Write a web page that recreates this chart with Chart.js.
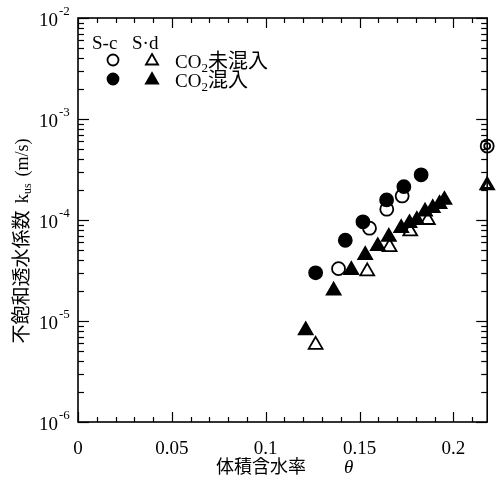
<!DOCTYPE html>
<html><head><meta charset="utf-8">
<script src="https://cdn.jsdelivr.net/npm/chart.js@4/dist/chart.umd.min.js"></script>
<style>html,body{margin:0;padding:0;background:#fff}</style>
</head><body>
<canvas id="c" width="497" height="481"></canvas>
<script>
// ---- data ----
const xTickValues = [0, 0.05, 0.1, 0.15, 0.2];
const xTickLabels = ['0', '0.05', '0.1', '0.15', '0.2'];
const yTickExponents = [-6, -5, -4, -3, -2];

const scOpenTheta = [0.1388, 0.1553, 0.1645, 0.1727];
const scOpenK = [3.3e-5, 8.3e-5, 1.28e-4, 1.73e-4];
const scFilledTheta = [0.1266, 0.1424, 0.1518, 0.1644, 0.1736, 0.1828];
const scFilledK = [3.0e-5, 6.3e-5, 9.6e-5, 1.58e-4, 2.14e-4, 2.8e-4];
const sdOpenTheta = [0.1266, 0.1541, 0.1660, 0.1770, 0.1864];
const sdOpenK = [5.8e-6, 3.1e-5, 5.4e-5, 7.7e-5, 1.0e-4];
const sdFilledTheta = [0.1213, 0.1362, 0.1456, 0.1530, 0.1597, 0.1656, 0.1722, 0.1766, 0.1805, 0.1849, 0.1890, 0.1926, 0.1952];
const sdFilledK = [8.1e-6, 2.0e-5, 3.2e-5, 4.5e-5, 5.5e-5, 6.8e-5, 8.3e-5, 9.3e-5, 1.0e-4, 1.21e-4, 1.31e-4, 1.44e-4, 1.58e-4];
const satTheta = [0.218];
const scSatK = [5.4e-4];
const sdSatK = [2.2e-4];

const X_MIN = 0, X_MAX = 0.218, Y_MIN = 1e-6, Y_MAX = 1e-2;

function pts(xs, ys) { return xs.map((v, i) => ({ x: v, y: ys[i] })); }

const SERIF = '"Liberation Serif", "DejaVu Serif", serif';
const CJK = '"Noto Sans CJK JP", "Noto Sans", sans-serif';

function marker(ctx, style, x, y, r, filled) {
  ctx.beginPath();
  if (style === 'circle') {
    ctx.arc(x, y, r, 0, Math.PI * 2);
  } else {
    for (let k = 0; k < 3; k++) {
      const a = k * 2 * Math.PI / 3;
      const px = x + Math.sin(a) * r, py = y - Math.cos(a) * r;
      if (k === 0) ctx.moveTo(px, py); else ctx.lineTo(px, py);
    }
    ctx.closePath();
  }
  ctx.fillStyle = filled ? '#000' : '#fff';
  ctx.fill();
  ctx.lineWidth = 1.8;
  ctx.strokeStyle = '#000';
  ctx.stroke();
}

// draws a run of text pieces [{t, font, dy}] starting at x, baseline y; returns end x
function runText(ctx, pieces, x, y, measureOnly) {
  let cx = x;
  for (const p of pieces) {
    ctx.font = p.font;
    if (!measureOnly) ctx.fillText(p.t, cx, y + (p.dy || 0));
    cx += ctx.measureText(p.t).width + (p.gap || 0);
  }
  return cx;
}

const decor = {
  id: 'decor',
  afterDraw(chart) {
    const { ctx, chartArea: a, scales: { x, y } } = chart;
    ctx.save();
    ctx.strokeStyle = '#000';
    ctx.fillStyle = '#000';
    const line = (x1, y1, x2, y2) => { ctx.beginPath(); ctx.moveTo(x1, y1); ctx.lineTo(x2, y2); ctx.stroke(); };

    // x minor/major ticks (bottom + top), inward
    ctx.lineWidth = 1.2;
    for (let i = 0; i <= 21; i++) {
      const px = Math.round(x.getPixelForValue(i / 100)) + 0.5;
      const L = (i % 5 === 0) ? 10 : 5;
      line(px, a.bottom, px, a.bottom - L);
      line(px, a.top, px, a.top + L);
    }
    // y ticks (left + right), inward
    for (const e of yTickExponents) {
      for (let m = 1; m <= 9; m++) {
        if (e === yTickExponents[yTickExponents.length - 1] && m > 1) break;
        const py = Math.round(y.getPixelForValue(m * Math.pow(10, e))) + 0.5;
        const L = m === 1 ? 11 : 6;
        line(a.left, py, a.left + L, py);
        line(a.right, py, a.right - L, py);
      }
    }
    // frame
    ctx.lineWidth = 1.6;
    ctx.strokeRect(a.left, a.top, a.right - a.left, a.bottom - a.top);

    // y tick labels 10^n
    ctx.textBaseline = 'middle';
    for (const e of yTickExponents) {
      const py = y.getPixelForValue(Math.pow(10, e));
      ctx.textAlign = 'right';
      ctx.font = '19px ' + SERIF;
      ctx.fillText('10', 58, py + 3);
      ctx.textAlign = 'left';
      ctx.font = '13px ' + SERIF;
      ctx.fillText('-' + Math.abs(e), 59, py - 6);
    }

    // x axis title
    ctx.textAlign = 'left';
    ctx.textBaseline = 'alphabetic';
    ctx.font = '18px ' + CJK;
    ctx.fillText('体積含水率', 216, 473);
    ctx.font = 'italic 19px ' + SERIF;
    ctx.fillText('θ', 344, 473);

    // y axis title (rotated)
    ctx.save();
    ctx.translate(28, 241);
    ctx.rotate(-Math.PI / 2);
    const yt = [
      { t: '不飽和透水係数', font: '19px ' + CJK, gap: 7 },
      { t: 'k', font: '19px ' + SERIF },
      { t: 'us', font: '12px ' + SERIF, dy: 3, gap: 7 },
      { t: '(m/s)', font: '18px ' + SERIF }
    ];
    const w = runText(ctx, yt, 0, 0, true);
    runText(ctx, yt, -w / 2, 0, false);
    ctx.restore();

    // legend
    ctx.font = '19px ' + SERIF;
    ctx.textBaseline = 'alphabetic';
    ctx.fillText('S-c', 92, 49);
    ctx.fillText('S·d', 132, 49);
    marker(ctx, 'circle', 113, 60, 5.5, false);
    marker(ctx, 'triangle', 152, 61, 7, false);
    marker(ctx, 'circle', 113, 79, 5.5, true);
    marker(ctx, 'triangle', 152, 80, 7, true);
    ctx.fillStyle = '#000';
    const l1 = [
      { t: 'CO', font: '19px ' + SERIF },
      { t: '2', font: '13px ' + SERIF, dy: 4 },
      { t: '未混入', font: '20px ' + CJK }
    ];
    const l2 = [
      { t: 'CO', font: '19px ' + SERIF },
      { t: '2', font: '13px ' + SERIF, dy: 4 },
      { t: '混入', font: '20px ' + CJK }
    ];
    runText(ctx, l1, 175, 68, false);
    runText(ctx, l2, 175, 87, false);
    ctx.restore();
  }
};

const ds = (label, data, style, r, filled, order, extra) => Object.assign({
  label, data, showLine: false, pointStyle: style, pointRadius: r,
  pointBackgroundColor: filled ? '#000' : '#fff', pointBorderColor: '#000',
  pointBorderWidth: 1.8, order
}, extra || {});

new Chart(document.getElementById('c'), {
  type: 'scatter',
  data: {
    datasets: [
      ds('S-c CO2未混入', pts(scOpenTheta, scOpenK), 'circle', 6.5, false, 4),
      ds('S-d CO2未混入', pts(sdOpenTheta, sdOpenK), 'triangle', 8, false, 5),
      ds('S-c CO2混入', pts(scFilledTheta, scFilledK), 'circle', 6.5, true, 2),
      ds('S-d CO2混入', pts(sdFilledTheta, sdFilledK), 'triangle', 8, true, 3),
      ds('S-c 飽和', pts(satTheta, scSatK), 'circle', 6.5, false, 1, { clip: false }),
      ds('S-c 飽和 inner', pts(satTheta, scSatK), 'circle', 3, false, 0, { clip: false }),
      ds('S-d 飽和', pts(satTheta, sdSatK), 'triangle', 8, true, 1, { clip: false }),
      ds('S-d 飽和 open', pts(satTheta, sdSatK), 'triangle', 5, false, 0, { clip: false })
    ]
  },
  options: {
    responsive: false,
    devicePixelRatio: 1,
    animation: false,
    events: [],
    layout: { padding: { top: 18, right: 8, left: 0, bottom: 0 } },
    plugins: { legend: { display: false }, tooltip: { enabled: false } },
    scales: {
      x: {
        type: 'linear', min: X_MIN, max: X_MAX,
        grid: { display: false }, border: { display: false },
        afterBuildTicks: s => { s.ticks = xTickValues.map(v => ({ value: v })); },
        afterFit: s => { s.height = 59; },
        ticks: {
          autoSkip: false, maxRotation: 0, padding: 8, color: '#000',
          font: { family: SERIF, size: 19 },
          callback: (v) => {
            const i = xTickValues.findIndex(t => Math.abs(t - v) < 1e-9);
            return i >= 0 ? xTickLabels[i] : '';
          }
        }
      },
      y: {
        type: 'logarithmic', min: Y_MIN, max: Y_MAX,
        grid: { display: false }, border: { display: false },
        ticks: { display: false },
        afterFit: s => { s.width = 78; }
      }
    }
  },
  plugins: [decor]
});
</script>
</body></html>
